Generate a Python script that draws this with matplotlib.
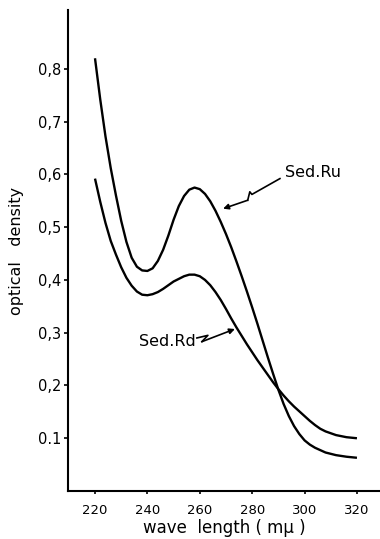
import matplotlib
matplotlib.use("Agg")
import matplotlib.pyplot as plt

plt.rcParams['font.family'] = ['DejaVu Sans']

# ---- data ----
wl_ru = [220, 222, 224, 226, 228, 230, 232, 234, 236, 238, 240, 242, 244, 246, 248,
         250, 252, 254, 256, 258, 260, 262, 264, 266, 268, 270, 272, 274, 276, 278,
         280, 282, 284, 286, 288, 290, 292, 294, 296, 298, 300, 302, 304, 308, 312,
         316, 320]
od_ru = [0.820, 0.742, 0.672, 0.612, 0.560, 0.512, 0.472, 0.442, 0.425, 0.418, 0.417,
         0.422, 0.436, 0.457, 0.484, 0.514, 0.540, 0.559, 0.571, 0.575, 0.572, 0.563,
         0.549, 0.531, 0.510, 0.487, 0.462, 0.435, 0.407, 0.378, 0.348, 0.317, 0.285,
         0.253, 0.222, 0.192, 0.165, 0.142, 0.123, 0.108, 0.096, 0.088, 0.082, 0.073,
         0.068, 0.065, 0.063]

wl_rd = [220, 222, 224, 226, 228, 230, 232, 234, 236, 238, 240, 242, 244, 246, 248,
         250, 252, 254, 256, 258, 260, 262, 264, 266, 268, 270, 272, 274, 276, 278,
         280, 282, 284, 286, 288, 290, 292, 294, 296, 298, 300, 302, 304, 306, 308,
         312, 316, 320]
od_rd = [0.592, 0.548, 0.508, 0.474, 0.448, 0.424, 0.404, 0.389, 0.378, 0.372, 0.371,
         0.373, 0.377, 0.383, 0.390, 0.397, 0.402, 0.407, 0.410, 0.410, 0.407, 0.400,
         0.390, 0.377, 0.362, 0.345, 0.327, 0.310, 0.294, 0.278, 0.263, 0.248, 0.234,
         0.220, 0.206, 0.193, 0.181, 0.170, 0.160, 0.151, 0.142, 0.133, 0.125, 0.118,
         0.113, 0.106, 0.102, 0.100]

x_ticks = [220, 240, 260, 280, 300, 320]
x_tick_labels = ["220", "240", "260", "280", "300", "320"]
y_ticks = [0.1, 0.2, 0.3, 0.4, 0.5, 0.6, 0.7, 0.8]
y_tick_labels = ["0.1", "0,2", "0,3", "0,4", "0,5", "0,6", "0,7", "0,8"]

label_ru = "Sed.Ru"
label_rd = "Sed.Rd"
x_label = "wave  length ( mμ )"
y_label = "optical   density"

# ---- figure ----
fig = plt.figure(figsize=(3.80, 5.39), dpi=100)
ax = fig.add_axes([0.179, 0.089, 0.821, 0.892])

ax.plot(wl_ru, od_ru, color="black", lw=1.7, solid_capstyle="butt")
ax.plot(wl_rd, od_rd, color="black", lw=1.7, solid_capstyle="butt")

ax.set_xlim(209.7, 328.8)
ax.set_ylim(0.0, 0.911)

ax.spines['top'].set_visible(False)
ax.spines['right'].set_visible(False)
for s in ('left', 'bottom'):
    ax.spines[s].set_linewidth(1.5)

ax.set_xticks(x_ticks)
ax.set_xticklabels(x_tick_labels, fontsize=9.5)
ax.set_yticks(y_ticks)
ax.set_yticklabels(y_tick_labels, fontsize=10.5)
ax.tick_params(axis='y', direction='out', length=3, width=1.2, pad=2)
ax.tick_params(axis='x', direction='out', length=2, width=1.2, pad=7)

ax.set_xlabel(x_label, fontsize=12, labelpad=2)
ax.set_ylabel(y_label, fontsize=11.5, labelpad=10)

# annotations: labels with zig-zag arrows
ax.text(292.6, 0.603, label_ru, fontsize=11.5, va='center', ha='left')
ru_path_x = [290.6, 279.9, 279.1, 278.3]
ru_path_y = [0.592, 0.562, 0.567, 0.551]
ax.plot(ru_path_x, ru_path_y, color="black", lw=1.2)
ax.annotate("", xy=(268.9, 0.535), xytext=(ru_path_x[-1], ru_path_y[-1]),
            arrowprops=dict(arrowstyle="-|>", color="black", lw=1.2,
                            mutation_scale=8, shrinkA=0, shrinkB=0))

ax.text(258.6, 0.283, label_rd, fontsize=11.5, va='center', ha='right')
rd_path_x = [258.9, 263.1, 260.8]
rd_path_y = [0.290, 0.295, 0.283]
ax.plot(rd_path_x, rd_path_y, color="black", lw=1.2)
ax.annotate("", xy=(273.4, 0.307), xytext=(rd_path_x[-1], rd_path_y[-1]),
            arrowprops=dict(arrowstyle="-|>", color="black", lw=1.2,
                            mutation_scale=8, shrinkA=0, shrinkB=0))

fig.savefig("out.png", dpi=100)
